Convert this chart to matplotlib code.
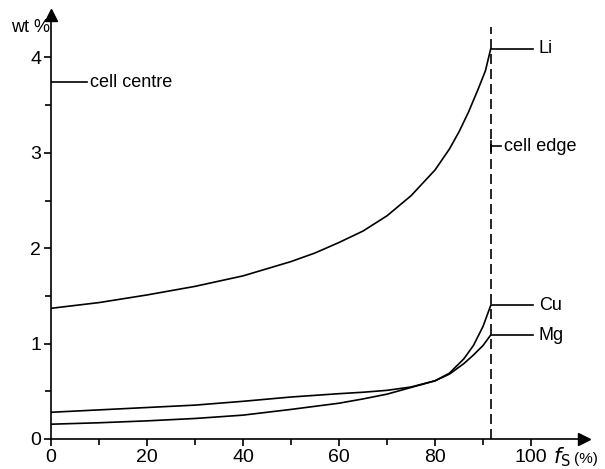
import matplotlib.pyplot as plt
from matplotlib.ticker import MultipleLocator

plt.rcParams['font.family'] = ['Liberation Sans', 'DejaVu Sans']

# solid fraction (%) and concentrations (wt %)
li_x = [0, 10, 20, 30, 40, 50, 55, 60, 65, 70, 75, 80, 83, 85, 87, 89, 90.5, 91.6]
li_wt = [1.37, 1.43, 1.51, 1.60, 1.71, 1.86, 1.95, 2.06, 2.18, 2.34, 2.55, 2.82, 3.04, 3.22, 3.43, 3.67, 3.86, 4.09]

cu_x = [0, 10, 20, 30, 40, 50, 60, 65, 70, 75, 80, 83, 86, 88, 90, 91.6]
cu_wt = [0.28, 0.305, 0.33, 0.355, 0.395, 0.44, 0.475, 0.49, 0.51, 0.545, 0.61, 0.69, 0.84, 0.98, 1.18, 1.40]

mg_x = [0, 10, 20, 30, 40, 50, 60, 65, 70, 75, 80, 83, 86, 88, 90, 91.6]
mg_wt = [0.155, 0.17, 0.19, 0.215, 0.25, 0.31, 0.375, 0.42, 0.47, 0.54, 0.61, 0.68, 0.79, 0.88, 0.98, 1.09]

cell_edge = 91.6
cell_centre_wt = 3.74
cell_edge_wt = 3.07

fig = plt.figure(figsize=(6.05, 4.69), dpi=100)
ax = fig.add_axes([0.0843, 0.064, 0.8807, 0.903])

lw = 1.2
ax.plot(li_x, li_wt, color='black', lw=lw)
ax.plot(cu_x, cu_wt, color='black', lw=lw)
ax.plot(mg_x, mg_wt, color='black', lw=lw)
ax.plot([cell_edge, cell_edge], [0, 4.32], color='black', lw=lw, dashes=(6, 3))

# labels with leader lines
for name, x, y in [('Li', li_x[-1], li_wt[-1]), ('Cu', cu_x[-1], cu_wt[-1]), ('Mg', mg_x[-1], mg_wt[-1])]:
    ax.plot([x, 100.5], [y, y], color='black', lw=lw)
    ax.text(101.6, y, name, fontsize=13, va='center', ha='left')

ax.plot([0, 7.5], [cell_centre_wt, cell_centre_wt], color='black', lw=lw)
ax.text(8.1, cell_centre_wt, 'cell centre', fontsize=13, va='center', ha='left')

ax.plot([cell_edge, 93.8], [cell_edge_wt, cell_edge_wt], color='black', lw=lw)
ax.plot([cell_edge, cell_edge], [cell_edge_wt - 0.05, cell_edge_wt + 0.05], color='black', lw=lw)
ax.text(94.4, cell_edge_wt, 'cell edge', fontsize=13, va='center', ha='left')

ax.set_xlim(0, 111)
ax.set_ylim(0, 4.44)
ax.spines['top'].set_visible(False)
ax.spines['right'].set_visible(False)
for s in ['left', 'bottom']:
    ax.spines[s].set_linewidth(lw)

ax.xaxis.set_minor_locator(MultipleLocator(10))
ax.yaxis.set_major_locator(MultipleLocator(1))
ax.yaxis.set_minor_locator(MultipleLocator(0.5))
ax.set_xticks([0, 20, 40, 60, 80, 100])
ax.tick_params(which='both', direction='out', width=lw, labelsize=14, pad=2)
ax.tick_params(which='major', length=5)
ax.tick_params(which='minor', length=4)

# axis arrows
ax.plot(1, 0, marker='>', color='black', markersize=8, transform=ax.transAxes, clip_on=False)
ax.plot(0, 1, marker='^', color='black', markersize=8, transform=ax.transAxes, clip_on=False)

ax.text(-4.2, 4.31, 'wt %', fontsize=13, ha='center', va='center')
ax.text(104.6, -0.19, r'$f_{\mathrm{S}}$', fontsize=15, ha='left', va='center')
ax.text(109.0, -0.21, '(%)', fontsize=11, ha='left', va='center')

fig.savefig('out.png', dpi=100)
